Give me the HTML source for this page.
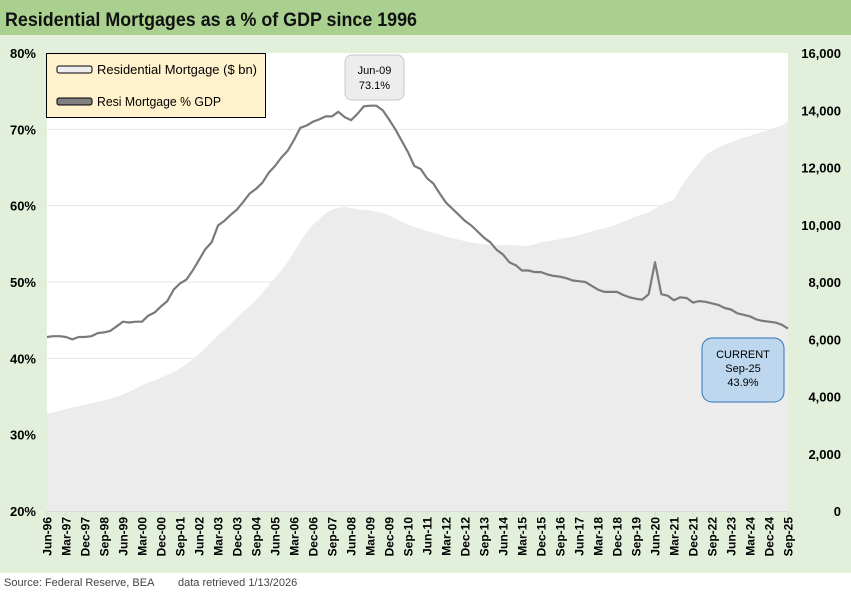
<!DOCTYPE html>
<html><head><meta charset="utf-8"><style>
body{margin:0;width:851px;height:593px;overflow:hidden;background:#fff;font-family:"Liberation Sans",sans-serif}
svg{display:block}
</style></head><body>
<svg id="c" width="851" height="593" xmlns="http://www.w3.org/2000/svg">
<rect x="0" y="0" width="851" height="573" fill="#e2efda"/>
<rect x="0" y="0" width="851" height="35" fill="#a9d08e"/>
<text x="5" y="26" font-size="19" font-weight="bold" fill="#111" textLength="412" lengthAdjust="spacingAndGlyphs">Residential Mortgages as a % of GDP since 1996</text>
<rect x="47" y="53" width="741" height="458" fill="#fff"/>
<g id="grid"></g>
<g id="area"></g>
<g id="line"></g>
<g id="axes"></g>
<g>
<rect x="46.5" y="53.5" width="219" height="64" fill="#fff2cc" stroke="#000"/>
<rect x="57" y="66" width="35" height="7" rx="2" fill="#ededed" stroke="#000"/>
<text x="97" y="74" font-size="13" fill="#000" textLength="160" lengthAdjust="spacingAndGlyphs">Residential Mortgage ($ bn)</text>
<rect x="57" y="98" width="35" height="7" rx="2" fill="#808080" stroke="#000"/>
<text x="97" y="106" font-size="13" fill="#000" textLength="124" lengthAdjust="spacingAndGlyphs">Resi Mortgage % GDP</text>
</g>
<g>
<rect x="345" y="55" width="59" height="45" rx="7" fill="#ededed" stroke="#c8c8c8"/>
<text x="374.5" y="74" font-size="11" text-anchor="middle" fill="#000">Jun-09</text>
<text x="374.5" y="89" font-size="11" text-anchor="middle" fill="#000">73.1%</text>
</g>
<g>
<rect x="702" y="338" width="82" height="64" rx="10" fill="#bdd7ee" stroke="#2e75b6"/>
<text x="743" y="358" font-size="11" text-anchor="middle" fill="#000">CURRENT</text>
<text x="743" y="372" font-size="11" text-anchor="middle" fill="#000">Sep-25</text>
<text x="743" y="386" font-size="11" text-anchor="middle" fill="#000">43.9%</text>
</g>
<text x="4" y="586" font-size="11" fill="#444">Source: Federal Reserve, BEA</text>
<text x="178" y="586" font-size="11" fill="#444">data retrieved 1/13/2026</text>
</svg>
<script>
const pctGdp=[42.8,42.9,42.9,
42.8,42.5,42.8,42.8, 42.9,43.3,43.4,43.6, 44.2,44.8,44.7,44.8, 44.8,45.6,46.0,46.8,
47.5,49.0,49.8,50.3, 51.5,52.9,54.3,55.2, 57.4,58.0,58.8,59.5, 60.5,61.6,62.2,63.0,
64.3,65.2,66.3,67.2, 68.6,70.2,70.5,71.0, 71.3,71.7,71.7,72.3, 71.6,71.2,72.0,73.0,
73.1,73.1,72.5,71.3, 70.0,68.5,67.0,65.2, 64.8,63.6,62.9,61.6, 60.4,59.6,58.8,58.0,
57.4,56.6,55.8,55.2, 54.2,53.6,52.6,52.2, 51.5,51.5,51.3,51.3, 51.0,50.8,50.7,50.5,
50.2,50.1,50.0,49.5, 49.0,48.7,48.7,48.7, 48.3,48.0,47.8,47.7, 48.4,52.6,48.4,48.2,
47.6,48.0,47.9,47.3, 47.5,47.4,47.2,47.0, 46.6,46.4,45.9,45.7, 45.5,45.1,44.9,44.8,
44.7,44.4,43.9];
const mortgageBn=[3400,3450,3500,3560,3620,3660,3710,3760,3810,3860,3920,3990,4080,4170,4280,4390,4480,4570,4660,4750,
4850,4980,5120,5300,5480,5690,5920,6140,6330,6540,6750,6960,7160,7380,7620,7880,8130,8400,8700,9050,
9400,9750,10000,10200,10400,10530,10600,10620,10580,10550,10520,10500,10460,10410,10330,10220,10100,10000,9920,9850,
9780,9720,9650,9580,9530,9480,9430,9380,9350,9320,9300,9290,9290,9290,9280,9270,9260,9320,9400,9420,
9460,9500,9540,9580,9640,9700,9760,9830,9880,9940,10020,10110,10200,10290,10360,10440,10560,10700,10800,10860,
11280,11600,11880,12170,12430,12580,12700,12800,12880,12960,13040,13100,13180,13250,13320,13400,13470,13620];
const leftTicks=[20,30,40,50,60,70,80];
const rightTicks=[0,2000,4000,6000,8000,10000,12000,14000,16000];
const mon=["Mar","Jun","Sep","Dec"];
const NS="http://www.w3.org/2000/svg";
const X0=47,X1=788,Y0=511,Y1=53;
const n=pctGdp.length;
function xs(i){return X0+i*(X1-X0)/(n-1);}
function yl(v){return Y0-(v-20)/60*(Y0-Y1);}
function yr(v){return Y0-v/16000*(Y0-Y1);}
function mk(tag,attrs,parent){const e=document.createElementNS(NS,tag);for(const k in attrs)e.setAttribute(k,attrs[k]);parent.appendChild(e);return e;}
const grid=document.getElementById('grid'),axes=document.getElementById('axes');
leftTicks.forEach(t=>{
 if(t>20&&t<80){const g=mk('line',{x1:X0,x2:X1,y1:yl(t),y2:yl(t),stroke:'#e6e6e6'},grid);
 
 }
 const tx=mk('text',{x:36,y:yl(t)+5,'font-size':13,'font-weight':'bold','text-anchor':'end',fill:'#000'},axes);
 tx.textContent=t+'%';
 
 
});
rightTicks.forEach(t=>{
 const tx=mk('text',{x:841,y:yr(t)+5,'font-size':13,'font-weight':'bold','text-anchor':'end',fill:'#000'},axes);
 tx.textContent=t.toLocaleString('en-US');
 
 
});
let d='M'+xs(0)+' '+Y0;
mortgageBn.forEach((v,i)=>{d+=' L'+xs(i).toFixed(1)+' '+yr(v).toFixed(1);});
d+=' L'+xs(n-1)+' '+Y0+' Z';
const ar=mk('path',{d:d,fill:'#ececec'},document.getElementById('area'));


let p='';
pctGdp.forEach((v,i)=>{p+=(i?' L':'M')+xs(i).toFixed(1)+' '+yl(v).toFixed(1);});
const ln=mk('path',{d:p,fill:'none',stroke:'#7a7a7a','stroke-width':2.2,'stroke-linejoin':'round'},document.getElementById('line'));


const ax=mk('line',{x1:X0,x2:X1,y1:Y0+0.5,y2:Y0+0.5,stroke:'#d9d9d9'},axes);


for(let i=0;i<n;i+=3){
 const q=(1+i)%4, yr2=1996+Math.floor((1+i)/4);
 const lab=mon[q]+'-'+String(yr2%100).padStart(2,'0');
 const x=xs(i);
 const tk=mk('line',{x1:x,x2:x,y1:Y0,y2:Y0+5,stroke:'#d9d9d9'},axes);
 
 
 const t=mk('text',{x:0,y:0,'font-size':12,'font-weight':'bold','text-anchor':'end',fill:'#000',transform:'translate('+(x+4.5)+','+(Y0+6)+') rotate(-90)'},axes);
 t.textContent=lab;
 
 
}
</script>
</body></html>
